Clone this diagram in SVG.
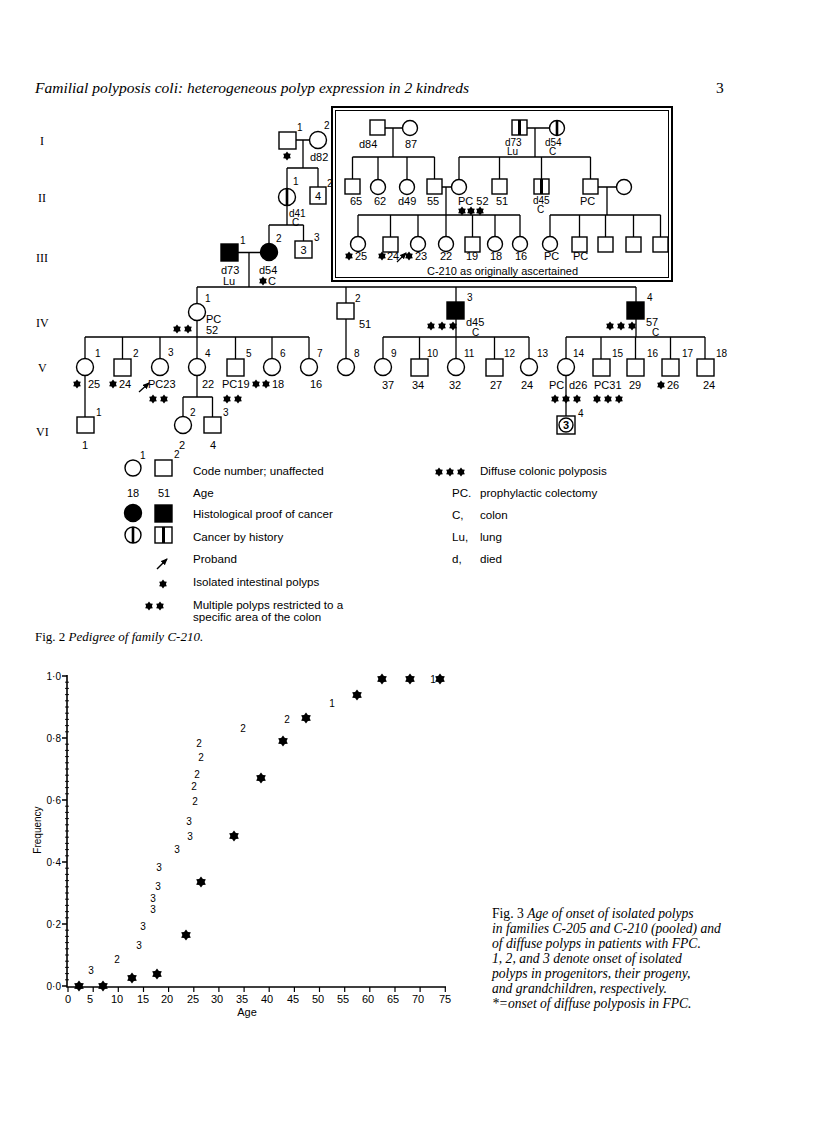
<svg xmlns="http://www.w3.org/2000/svg" xmlns:xlink="http://www.w3.org/1999/xlink" width="816" height="1142" viewBox="0 0 816 1142">
<style>
.ln{stroke:#000;stroke-width:1.3;fill:none}
.sy{stroke:#000;stroke-width:1.4;fill:#fff}
.af{stroke:#000;stroke-width:1.4;fill:#000}
.t{font-family:"Liberation Sans",Arial,sans-serif;font-size:11px;fill:#000}
.n{font-family:"Liberation Sans",Arial,sans-serif;font-size:10px;fill:#000}
.lg{font-family:"Liberation Sans",Arial,sans-serif;font-size:11.6px;fill:#000}
.g{font-family:"Liberation Sans",Arial,sans-serif;font-size:10px;fill:#000;text-anchor:middle}
.sf{font-family:"Liberation Serif","Times New Roman",serif;font-size:13px;fill:#000}
.it{font-style:italic}
</style>
<defs>
<polygon id="st" points="0,-4.4 1.5,-2.5 3.8,-2.2 2.9,0 3.8,2.2 1.5,2.5 0,4.4 -1.5,2.5 -3.8,2.2 -2.9,0 -3.8,-2.2 -1.5,-2.5"/>
<polygon id="stL" points="0,-5.5 1.9,-3.1 4.8,-2.8 3.6,0 4.8,2.8 1.9,3.1 0,5.5 -1.9,3.1 -4.8,2.8 -3.6,0 -4.8,-2.8 -1.9,-3.1"/>
<marker id="ah" markerWidth="8" markerHeight="8" refX="6" refY="3" orient="auto" markerUnits="userSpaceOnUse"><path d="M0,0 L7,3 L0,6 Z" fill="#000"/></marker>
</defs>
<rect width="816" height="1142" fill="#fff"/>

<!-- header -->
<text x="35" y="93" class="sf it" style="font-size:15.5px">Familial polyposis coli: heterogeneous polyp expression in 2 kindreds</text>
<text x="716" y="93" class="sf" style="font-size:15.5px">3</text>

<!-- generation labels -->
<g id="gen-labels" class="sf" style="font-size:12px">
<text x="40" y="145">I</text>
<text x="38" y="202">II</text>
<text x="36" y="262">III</text>
<text x="36" y="327">IV</text>
<text x="38" y="372">V</text>
<text x="36" y="436">VI</text>
</g>

<!-- connectors -->
<g id="connectors" class="ln">
<path d="M296,140H309.5 M303,140V168 M287,168H318 M287,168V188.5 M318,168V187"/>
<path d="M287,205.5V225 M269,225H303.5 M269,225V243.5 M303.5,225V241"/>
<path d="M238,252.5H260.5 M249,252.5V287 M197,287H636"/>
<path d="M197,287V303.5 M197,320.5V337 M85,337H309 M85,337V358.5 M122.5,337V359 M160,337V358.5 M197,337V358.5 M235.5,337V359 M272,337V358.5 M309,337V358.5"/>
<path d="M85,375.5V417 M197,375.5V397 M183,397H212.5 M183,397V416.5 M212.5,397V417"/>
<path d="M346,287V303 M346,319V358.5"/>
<path d="M456,287V302 M456,319V337 M383,337H529 M383,337V358.5 M419.5,337V359 M456,337V358.5 M494.5,337V359 M529,337V358.5"/>
<path d="M636,287V302 M636,319V337 M566,337H705 M566,337V358.5 M601,337V359 M635.5,337V359 M670.5,337V359 M705,337V359 M566,375.5V416"/>
<path d="M385,128H402.5 M393,128V157 M352.5,157H434.5 M352.5,157V179 M378,157V179.5 M407,157V179.5 M434.5,157V179"/>
<path d="M442,187H451.5 M446,187V215 M358,215H520 M358,215V236.5 M390.5,215V237 M418,215V236.5 M446,215V236.5 M472.5,215V237 M495,215V236.5 M520,215V236.5"/>
<path d="M527,128H549.5 M535,128V157 M459,157H590.5 M459,157V179.5 M499.5,157V179 M541.5,157V179 M590.5,157V179"/>
<path d="M598,187H616.5 M607,187V215 M550,215H660.5 M550,215V236.5 M579.5,215V237 M605.5,215V237 M633.5,215V237 M660.5,215V237"/>
</g>

<!-- outline box -->
<g id="box-c210">
<rect x="332" y="107" width="340" height="174" fill="none" stroke="#000" stroke-width="2"/>
<rect x="335.5" y="110.5" width="333" height="167" fill="none" stroke="#000" stroke-width="1"/>
<text x="427" y="275" class="t">C-210 as originally ascertained</text>
</g>

<!-- Generation I -->
<g id="I-1"><rect x="279" y="132" width="17" height="17" class="sy"/><text x="297" y="131" class="n">1</text><use href="#st" x="287" y="156"/></g>
<g id="I-2"><circle cx="318" cy="140" r="8.5" class="sy"/><text x="324" y="129" class="n">2</text><text x="310" y="161" class="t">d82</text></g>
<!-- Generation II -->
<g id="II-1"><circle cx="287" cy="197" r="8.5" class="sy"/><line x1="287" y1="188.5" x2="287" y2="205.5" stroke="#000" stroke-width="2.6"/><text x="293" y="185" class="n">1</text><text x="289" y="217" class="n">d41</text><text x="292" y="226" class="n">C</text></g>
<g id="II-2"><rect x="310" y="187" width="16" height="17" class="sy"/><text x="318" y="200" class="g" style="font-size:11px">4</text><text x="327" y="187" class="n">2</text></g>
<!-- Generation III -->
<g id="III-1"><rect x="221" y="244" width="17" height="17" class="af"/><text x="240" y="244" class="n">1</text><text x="221" y="274" class="t">d73</text><text x="223" y="285" class="t">Lu</text></g>
<g id="III-2"><circle cx="269" cy="252" r="8.5" class="af"/><text x="276" y="242" class="n">2</text><text x="259" y="274" class="t">d54</text><use href="#st" x="263" y="281"/><text x="268" y="285" class="t">C</text></g>
<g id="III-3"><rect x="295" y="241" width="17" height="17" class="sy"/><text x="303.5" y="254" class="g" style="font-size:11px">3</text><text x="314" y="241" class="n">3</text></g>
<!-- Generation IV -->
<g id="IV-1"><circle cx="197" cy="312" r="8.5" class="sy"/><text x="205" y="302" class="n">1</text><text x="206" y="323" class="t">PC</text><text x="206" y="334" class="t">52</text><use href="#st" x="177" y="329"/><use href="#st" x="188" y="329"/></g>
<g id="IV-2"><rect x="337" y="303" width="17" height="16" class="sy"/><text x="355" y="302" class="n">2</text><text x="359" y="328" class="t">51</text></g>
<g id="IV-3"><rect x="447" y="302" width="17" height="17" class="af"/><text x="467" y="301" class="n">3</text><use href="#st" x="431" y="326"/><use href="#st" x="442" y="326"/><use href="#st" x="453" y="326"/><text x="466" y="326" class="t">d45</text><text x="472" y="336" class="n">C</text></g>
<g id="IV-4"><rect x="627" y="302" width="17" height="17" class="af"/><text x="647" y="301" class="n">4</text><use href="#st" x="610" y="326"/><use href="#st" x="621" y="326"/><use href="#st" x="632" y="326"/><text x="646" y="326" class="t">57</text><text x="652" y="336" class="n">C</text></g>
<!-- Generation V -->
<g id="V-1"><circle cx="85" cy="367" r="8.5" class="sy"/><text x="95" y="357" class="n">1</text><use href="#st" x="77" y="384"/><text x="88" y="388" class="t">25</text></g>
<g id="V-2"><rect x="114" y="359" width="17" height="17" class="sy"/><text x="133" y="357" class="n">2</text><use href="#st" x="113" y="384"/><text x="119" y="388" class="t">24</text></g>
<g id="V-3"><circle cx="160" cy="367" r="8.5" class="sy"/><text x="168" y="356" class="n">3</text><line x1="139" y1="392" x2="149" y2="383" stroke="#000" stroke-width="1.3" marker-end="url(#ah)"/><text x="148" y="388" class="t">PC23</text><use href="#st" x="153" y="399"/><use href="#st" x="164" y="399"/></g>
<g id="V-4"><circle cx="197" cy="367" r="8.5" class="sy"/><text x="205" y="357" class="n">4</text><text x="202" y="388" class="t">22</text></g>
<g id="V-5"><rect x="227" y="359" width="17" height="17" class="sy"/><text x="246" y="357" class="n">5</text><text x="222" y="388" class="t">PC19</text><use href="#st" x="227" y="399"/><use href="#st" x="238" y="399"/></g>
<g id="V-6"><circle cx="272" cy="367" r="8.5" class="sy"/><text x="280" y="357" class="n">6</text><use href="#st" x="256" y="384"/><use href="#st" x="266" y="384"/><text x="272" y="388" class="t">18</text></g>
<g id="V-7"><circle cx="309" cy="367" r="8.5" class="sy"/><text x="317" y="357" class="n">7</text><text x="310" y="388" class="t">16</text></g>
<g id="V-8"><circle cx="346" cy="367" r="8.5" class="sy"/><text x="354" y="357" class="n">8</text></g>
<g id="V-9"><circle cx="383" cy="367" r="8.5" class="sy"/><text x="391" y="357" class="n">9</text><text x="382" y="389" class="t">37</text></g>
<g id="V-10"><rect x="411" y="359" width="17" height="17" class="sy"/><text x="427" y="357" class="n">10</text><text x="412" y="389" class="t">34</text></g>
<g id="V-11"><circle cx="456" cy="367" r="8.5" class="sy"/><text x="464" y="357" class="n">11</text><text x="449" y="389" class="t">32</text></g>
<g id="V-12"><rect x="486" y="359" width="17" height="17" class="sy"/><text x="504" y="357" class="n">12</text><text x="490" y="389" class="t">27</text></g>
<g id="V-13"><circle cx="529" cy="367" r="8.5" class="sy"/><text x="537" y="357" class="n">13</text><text x="521" y="389" class="t">24</text></g>
<g id="V-14"><circle cx="566" cy="367" r="8.5" class="sy"/><text x="573" y="357" class="n">14</text><text x="549" y="389" class="t">PC</text><text x="569" y="389" class="t">d26</text><use href="#st" x="555" y="399"/><use href="#st" x="566" y="399"/><use href="#st" x="577" y="399"/></g>
<g id="V-15"><rect x="593" y="359" width="17" height="17" class="sy"/><text x="612" y="357" class="n">15</text><text x="594" y="389" class="t">PC31</text><use href="#st" x="597" y="399"/><use href="#st" x="608" y="399"/><use href="#st" x="619" y="399"/></g>
<g id="V-16"><rect x="627" y="359" width="17" height="17" class="sy"/><text x="647" y="357" class="n">16</text><text x="629" y="389" class="t">29</text></g>
<g id="V-17"><rect x="662" y="359" width="17" height="17" class="sy"/><text x="682" y="357" class="n">17</text><use href="#st" x="661" y="385"/><text x="667" y="389" class="t">26</text></g>
<g id="V-18"><rect x="697" y="359" width="17" height="17" class="sy"/><text x="716" y="357" class="n">18</text><text x="703" y="389" class="t">24</text></g>
<!-- Generation VI -->
<g id="VI-1"><rect x="77" y="417" width="17" height="16" class="sy"/><text x="96" y="416" class="n">1</text><text x="82" y="449" class="t">1</text></g>
<g id="VI-2"><circle cx="183" cy="425" r="8.5" class="sy"/><text x="190" y="416" class="n">2</text><text x="179" y="449" class="t">2</text></g>
<g id="VI-3"><rect x="204" y="417" width="17" height="16" class="sy"/><text x="223" y="416" class="n">3</text><text x="210" y="449" class="t">4</text></g>
<g id="VI-4"><rect x="557" y="416" width="18" height="18" class="sy"/><circle cx="566" cy="425" r="7" class="sy"/><text x="566" y="429" class="g" style="font-size:11px;font-weight:bold">3</text><text x="578" y="417" class="n">4</text></g>

<!-- Box: original kindred -->
<g id="B-d84"><rect x="370" y="120" width="15" height="15" class="sy"/><text x="359" y="148" class="t">d84</text></g>
<g id="B-87"><circle cx="410" cy="128" r="7.5" class="sy"/><text x="405" y="148" class="t">87</text></g>
<g id="B-65"><rect x="345" y="179" width="15" height="15" class="sy"/><text x="350" y="205" class="t">65</text></g>
<g id="B-62"><circle cx="378" cy="187" r="7.5" class="sy"/><text x="374" y="205" class="t">62</text></g>
<g id="B-d49"><circle cx="407" cy="187" r="7.5" class="sy"/><text x="398" y="205" class="t">d49</text></g>
<g id="B-55"><rect x="427" y="179" width="15" height="15" class="sy"/><text x="427" y="205" class="t">55</text></g>
<g id="B-PC52"><circle cx="459" cy="187" r="7.5" class="sy"/><text x="458" y="205" class="t">PC 52</text><use href="#st" x="462" y="211"/><use href="#st" x="471" y="211"/><use href="#st" x="480" y="211"/></g>
<g id="B-25"><circle cx="358" cy="244" r="7.5" class="sy"/><use href="#st" x="349" y="256"/><text x="355" y="260" class="t">25</text></g>
<g id="B-24"><rect x="383" y="237" width="15" height="15" class="sy"/><use href="#st" x="382" y="256"/><text x="387" y="260" class="t">24</text><line x1="397" y1="262" x2="406" y2="253" stroke="#000" stroke-width="1.2" marker-end="url(#ah)"/></g>
<g id="B-23"><circle cx="418" cy="244" r="7.5" class="sy"/><use href="#st" x="409" y="256"/><text x="415" y="260" class="t">23</text></g>
<g id="B-22"><circle cx="446" cy="244" r="7.5" class="sy"/><text x="440" y="260" class="t">22</text></g>
<g id="B-19"><rect x="465" y="237" width="15" height="15" class="sy"/><text x="466" y="260" class="t">19</text></g>
<g id="B-18"><circle cx="495" cy="244" r="7.5" class="sy"/><text x="490" y="260" class="t">18</text></g>
<g id="B-16"><circle cx="520" cy="244" r="7.5" class="sy"/><text x="515" y="260" class="t">16</text></g>
<g id="B-d73"><rect x="512" y="120" width="15" height="15" class="sy"/><rect x="518" y="120" width="3" height="15" fill="#000"/><text x="505" y="146" class="n">d73</text><text x="507" y="155" class="n">Lu</text></g>
<g id="B-d54"><circle cx="557" cy="128" r="7.5" class="sy"/><line x1="557" y1="120.5" x2="557" y2="135.5" stroke="#000" stroke-width="2.6"/><text x="545" y="146" class="n">d54</text><text x="549" y="155" class="n">C</text></g>
<g id="B-51"><rect x="492" y="179" width="15" height="15" class="sy"/><text x="496" y="205" class="t">51</text></g>
<g id="B-d45"><rect x="534" y="179" width="15" height="15" class="sy"/><rect x="540" y="179" width="3" height="15" fill="#000"/><text x="533" y="204" class="n">d45</text><text x="537" y="213" class="n">C</text></g>
<g id="B-PC"><rect x="583" y="179" width="15" height="15" class="sy"/><text x="580" y="205" class="t">PC</text></g>
<g id="B-spouse"><circle cx="624" cy="187" r="7.5" class="sy"/></g>
<g id="B-c1"><circle cx="550" cy="244" r="7.5" class="sy"/><text x="544" y="260" class="t">PC</text></g>
<g id="B-c2"><rect x="572" y="237" width="15" height="15" class="sy"/><text x="573" y="260" class="t">PC</text></g>
<g id="B-c3"><rect x="598" y="237" width="15" height="15" class="sy"/></g>
<g id="B-c4"><rect x="626" y="237" width="15" height="15" class="sy"/></g>
<g id="B-c5"><rect x="653" y="237" width="15" height="15" class="sy"/></g>

<!-- Legend -->
<g id="legend">
<circle cx="133" cy="468" r="8" class="sy"/><text x="140" y="459" class="n">1</text>
<rect x="155" y="460" width="17" height="16" class="sy"/><text x="174" y="458" class="n">2</text>
<text x="193" y="475" class="lg">Code number; unaffected</text>
<text x="127" y="497" class="t">18</text><text x="158" y="497" class="t">51</text><text x="193" y="497" class="lg">Age</text>
<circle cx="133" cy="513" r="8.5" class="af"/><rect x="155" y="505" width="17" height="17" class="af"/>
<text x="193" y="518" class="lg">Histological  proof  of  cancer</text>
<circle cx="133" cy="535" r="8" class="sy"/><line x1="133" y1="527" x2="133" y2="543" stroke="#000" stroke-width="2.6"/>
<rect x="155" y="527" width="17" height="16" class="sy"/><rect x="162" y="527" width="3" height="16" fill="#000"/>
<text x="193" y="541" class="lg">Cancer by  history</text>
<line x1="157" y1="569" x2="167" y2="559" stroke="#000" stroke-width="1.4" marker-end="url(#ah)"/>
<text x="193" y="563" class="lg">Proband</text>
<use href="#st" x="163" y="584"/><text x="193" y="586" class="lg">Isolated  intestinal  polyps</text>
<use href="#st" x="149" y="606"/><use href="#st" x="160" y="606"/>
<text x="193" y="609" class="lg">Multiple  polyps  restricted  to  a</text>
<text x="193" y="621" class="lg">specific  area  of  the  colon</text>
<use href="#st" x="439" y="472"/><use href="#st" x="450" y="472"/><use href="#st" x="461" y="472"/>
<text x="480" y="475" class="lg">Diffuse  colonic  polyposis</text>
<text x="452" y="497" class="lg">PC.</text><text x="480" y="497" class="lg">prophylactic   colectomy</text>
<text x="452" y="519" class="lg">C,</text><text x="480" y="519" class="lg">colon</text>
<text x="452" y="541" class="lg">Lu,</text><text x="480" y="541" class="lg">lung</text>
<text x="452" y="563" class="lg">d,</text><text x="480" y="563" class="lg">died</text>
</g>

<text x="35" y="641" class="sf">Fig. 2  <tspan class="it">Pedigree of family C-210.</tspan></text>

<!-- Graph -->
<g id="graph-axes">
<path d="M67,675V987H446" fill="none" stroke="#000" stroke-width="1.6"/>
<path d="M62,676H67 M62,738H67 M62,800H67 M62,862H67 M62,924H67 M62,986H67" stroke="#000" stroke-width="1.3"/>
<path d="M65,682.2H69 M65,688.4H69 M65,694.6H69 M65,700.8H69 M65,707H69 M65,713.2H69 M65,719.4H69 M65,725.6H69 M65,731.8H69 M65,744.2H69 M65,750.4H69 M65,756.6H69 M65,762.8H69 M65,769H69 M65,775.2H69 M65,781.4H69 M65,787.6H69 M65,793.8H69 M65,806.2H69 M65,812.4H69 M65,818.6H69 M65,824.8H69 M65,831H69 M65,837.2H69 M65,843.4H69 M65,849.6H69 M65,855.8H69 M65,868.2H69 M65,874.4H69 M65,880.6H69 M65,886.8H69 M65,893H69 M65,899.2H69 M65,905.4H69 M65,911.6H69 M65,917.8H69 M65,930.2H69 M65,936.4H69 M65,942.6H69 M65,948.8H69 M65,955H69 M65,961.2H69 M65,967.4H69 M65,973.6H69 M65,979.8H69" stroke="#000" stroke-width="0.9"/>
<path d="M68,987V992 M93.2,987V992 M118.3,987V992 M143.5,987V992 M168.6,987V992 M193.8,987V992 M218.9,987V992 M244.1,987V992 M269.2,987V992 M294.4,987V992 M319.5,987V992 M344.7,987V992 M369.8,987V992 M395,987V992 M420.1,987V992 M445.3,987V992" stroke="#000" stroke-width="1.2"/>
<g class="g" style="text-anchor:end;font-size:10px">
<text x="61" y="680">1·0</text><text x="61" y="742">0·8</text><text x="61" y="804">0·6</text><text x="61" y="866">0·4</text><text x="61" y="928">0·2</text><text x="61" y="990">0·0</text>
</g>
<g class="g" style="font-size:11px">
<text x="68" y="1003">0</text><text x="90" y="1003">5</text><text x="117" y="1003">10</text><text x="143" y="1003">15</text><text x="167" y="1003">20</text><text x="193" y="1003">25</text><text x="217" y="1003">30</text><text x="242" y="1003">35</text><text x="267" y="1003">40</text><text x="293" y="1003">45</text><text x="318" y="1003">50</text><text x="343" y="1003">55</text><text x="368" y="1003">60</text><text x="393" y="1003">65</text><text x="418" y="1003">70</text><text x="445" y="1003">75</text>
<text x="247" y="1016">Age</text>
</g>
<text x="0" y="0" class="g" transform="translate(41,830) rotate(-90)">Frequency</text>
</g>
<g id="graph-points">
<use href="#stL" x="79" y="986"/><use href="#stL" x="103" y="986"/><use href="#stL" x="132" y="978"/><use href="#stL" x="157" y="974"/><use href="#stL" x="186" y="935"/><use href="#stL" x="201" y="882"/><use href="#stL" x="234" y="836"/><use href="#stL" x="261" y="778"/><use href="#stL" x="283" y="741"/><use href="#stL" x="306" y="718"/><use href="#stL" x="357" y="695"/><use href="#stL" x="382" y="679"/><use href="#stL" x="410" y="679"/><use href="#stL" x="440" y="679"/>
<g class="g">
<text x="433" y="683">1</text><text x="332" y="707">1</text>
<text x="287" y="723">2</text><text x="243" y="732">2</text><text x="199" y="747">2</text><text x="201" y="761">2</text><text x="197" y="778">2</text><text x="194" y="790">2</text><text x="195" y="805">2</text>
<text x="189" y="825">3</text><text x="190" y="840">3</text><text x="177" y="853">3</text><text x="159" y="871">3</text><text x="158" y="890">3</text><text x="153" y="902">3</text><text x="153" y="913">3</text><text x="143" y="930">3</text><text x="139" y="949">3</text><text x="117" y="963">2</text><text x="91" y="974">3</text>
</g>
</g>

<g id="fig3-caption" class="sf" style="font-size:13.6px">
<text x="492" y="918">Fig. 3   <tspan class="it">Age of onset of isolated polyps</tspan></text>
<text x="492" y="933" class="it">in families C-205 and C-210 (pooled) and</text>
<text x="492" y="948" class="it">of diffuse polyps in patients with FPC.</text>
<text x="492" y="963" class="it">1, 2, and 3 denote onset of isolated</text>
<text x="492" y="978" class="it">polyps in progenitors, their progeny,</text>
<text x="492" y="993" class="it">and grandchildren, respectively.</text>
<text x="492" y="1008" class="it">*=onset of diffuse polyposis in FPC.</text>
</g>
</svg>
